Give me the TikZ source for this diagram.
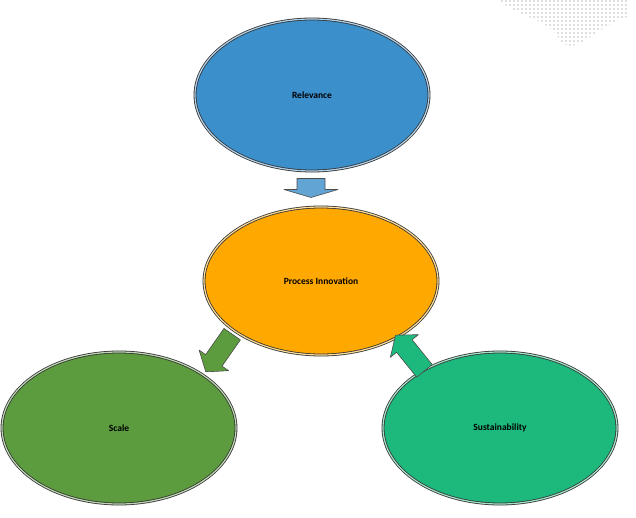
\documentclass[tikz,border=0pt]{standalone}
\usepackage{fontspec}
\setmainfont{Carlito}
\usetikzlibrary{shapes.geometric}
\definecolor{relblue}{HTML}{3B8FCB}
\definecolor{procorange}{HTML}{FFA900}
\definecolor{scalegreen}{HTML}{5C9B3E}
\definecolor{susteal}{HTML}{1DB97C}
\tikzset{
  bubble/.style={ellipse, draw=black!80, line width=0.8pt, minimum width=234pt,
    minimum height=152pt, font=\bfseries\fontsize{9.5}{11}\selectfont,
    double=white!60!#1, double distance=1.2pt, fill=#1},
  push/.style={draw=black!70, line width=0.6pt, fill=#1, line join=round}
}
% block arrow: colour, centre, angle, length, shaft half width, head half width, head length
\newcommand{\blockarrow}[7]{%
  \draw[push=#1, shift={#2}, rotate=#3]
    (-#4/2,-#5) -- (#4/2-#7,-#5) -- (#4/2-#7,-#6) -- (#4/2,0)
    -- (#4/2-#7,#6) -- (#4/2-#7,#5) -- (-#4/2,#5) -- cycle;}
\begin{document}
\begin{tikzpicture}[x=1pt, y=-1pt]
  \useasboundingbox (0,0) rectangle (636,518);
  % world map dots
  \begin{scope}
    \clip (500,0) .. controls (520,20) and (545,15) .. (560,40) .. controls (575,60) and (600,20) .. (636,15) -- (636,0) -- cycle;
    \foreach \i in {0,...,34} {
      \foreach \j in {0,...,15} {
        \fill[black!25] (490+4*\i,1+4*\j) circle (0.8pt);
      }
    }
  \end{scope}
  % bubbles
  \node[bubble=relblue] (rel) at (312,95) {Relevance};
  \node[bubble=procorange, minimum height=148pt] (proc) at (321,281) {Process Innovation};
  \node[bubble=scalegreen] (scale) at (119,428) {Scale};
  \node[bubble=susteal] (sust) at (500,428) {Sustainability};
  % arrows between bubbles
  \blockarrow{relblue!80}{(311,188)}{-90}{19}{14}{27}{8}
  \blockarrow{scalegreen}{(219,353)}{-125}{46}{10}{18}{14}
  \blockarrow{susteal}{(410,353)}{129}{46}{10}{18}{14}
\end{tikzpicture}
\end{document}
